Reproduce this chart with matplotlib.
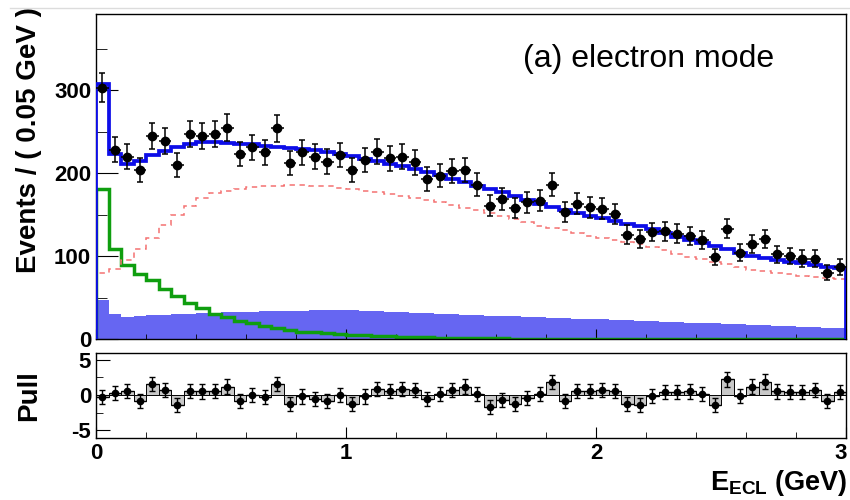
import numpy as np
import matplotlib
matplotlib.use('Agg')
import matplotlib.pyplot as plt
import matplotlib.transforms as mtransforms
from matplotlib.lines import Line2D
from matplotlib.ticker import MultipleLocator

plt.rcParams['font.family'] = ['Liberation Sans', 'DejaVu Sans']
plt.rcParams['mathtext.fontset'] = 'custom'
plt.rcParams['mathtext.rm'] = 'Liberation Sans'
plt.rcParams['mathtext.bf'] = 'Liberation Sans:bold'

# E_ECL bins: 60 bins of 0.05 GeV from 0 to 3
bin_width = 0.05
n_bins = 60

# data counts per bin
data = [303, 228, 220, 204, 245, 239, 210, 247, 245, 247,
        255, 223, 231, 225, 254, 212, 225, 220, 214, 222,
        204, 216, 226, 218, 220, 213, 193, 197, 203, 204,
        186, 161, 169, 158, 165, 167, 186, 153, 163, 159,
        157, 151, 126, 121, 129, 130, 127, 124, 119, 99,
        133, 104, 115, 121, 102, 100, 97, 97, 80, 87]

# signal component (red dashed)
signal = [80, 85, 95, 108, 122, 137, 150, 161, 170, 176,
          179, 181, 183, 184, 185, 185.5, 185.5, 185, 184, 182.5,
          181, 179, 177, 175, 173, 170.5, 168, 165, 162, 158.5,
          155, 151.5, 148.5, 145, 141, 136, 133.5, 131, 128, 124.5,
          121.5, 119, 116.5, 114, 111, 107, 103, 99, 96, 93,
          90, 86.5, 83.5, 81.5, 79.5, 78, 76.5, 75, 73.5, 72]

# peaking background (green)
peaking = [181, 108, 89, 79, 71, 60, 52, 44, 37, 30,
           26, 22, 19, 16, 13, 11, 9, 8, 7, 6,
           5, 4.5, 4, 3.5, 3, 2.5, 2, 1.7, 1.4, 1.2,
           1.0, 0.8, 0.7, 0.6, 0.5, 0.4, 0.3, 0.3, 0.2, 0.2,
           0.2, 0.1, 0.1, 0.1, 0.1, 0.1, 0.1, 0.1, 0.1, 0.1,
           0.1, 0.1, 0.1, 0.1, 0.1, 0.1, 0.1, 0.1, 0.1, 0.1]

# other background (blue filled)
other_bkg = [47, 30, 27, 28, 29, 29.5, 30, 30.5, 31, 31.5,
             32, 32.5, 33, 33.3, 33.6, 34, 34.3, 34.6, 34.8, 35,
             34.7, 34, 33.5, 33, 32.5, 31.8, 31.2, 30.6, 30, 29.5,
             29, 28.3, 27.7, 27.2, 26.6, 26, 25.4, 24.8, 24.2, 23.6,
             23.8, 23.2, 22.6, 22.1, 21.6, 21.1, 20.5, 19.9, 19.3, 18.8,
             18.2, 17.6, 17.0, 16.5, 15.9, 15.3, 14.8, 14.2, 13.6, 13.0]

# pull per bin
pulls = [-0.3, 0.3, 0.6, -0.9, 1.5, 0.75, -1.4, 0.6, 0.5, 0.6,
         1.2, -0.8, 0.0, -0.3, 1.5, -1.3, -0.2, -0.55, -0.9, 0.0,
         -1.3, -0.2, 0.9, 0.6, 0.9, 0.75, -0.55, 0.15, 0.75, 1.2,
         0.15, -1.7, -0.65, -1.3, -0.45, 0.15, 1.8, -0.8, 0.6, 0.6,
         0.75, 0.6, -1.3, -1.4, -0.1, 0.4, 0.4, 0.5, 0.2, -1.4,
         2.2, -0.1, 1.2, 1.9, 0.5, 0.4, 0.4, 0.75, -0.9, 0.4]

edges = np.arange(n_bins + 1) * bin_width
centers = edges[:-1] + bin_width / 2
data = np.array(data, dtype=float)
total = np.array(signal) + np.array(peaking) + np.array(other_bkg)

fig = plt.figure(figsize=(8.5, 5), dpi=100)
ax = fig.add_axes([96 / 850, 1 - 339 / 500, 750 / 850, 325 / 500])
ax2 = fig.add_axes([96 / 850, 1 - 437.5 / 500, 750 / 850, 85 / 500])

# --- upper panel ---
ax.stairs(other_bkg, edges, fill=True, color='#6666f2', lw=0, zorder=1)
ax.stairs(peaking, edges, color='#0f9e0f', lw=2.5, zorder=2)
ax.stairs(signal, edges, color='#f47272', lw=1.1, ls=(0, (3.5, 3)), zorder=3)
ax.stairs(total, edges, color='#0d0de8', lw=2.7, zorder=4)
ax.errorbar(centers, data, xerr=bin_width / 2, fmt='none', ecolor='black',
            lw=1.1, zorder=6)
ax.errorbar(centers, data, yerr=np.sqrt(data), fmt='o', color='black', ms=6,
            lw=1.1, capsize=2.5, capthick=1.1, zorder=7)

ax.set_xlim(0, 3)
ax.set_ylim(0, 392)
ax.set_yticks([0, 100, 200, 300])
ax.set_yticklabels(['0', '100', '200', '300'], fontweight='bold', fontsize=16)
ax.yaxis.set_minor_locator(MultipleLocator(50))
ax.set_xticks([0, 1, 2, 3])
ax.xaxis.set_minor_locator(MultipleLocator(0.2))
ax.tick_params(axis='x', which='major', direction='in', length=7, labelbottom=False)
ax.tick_params(axis='x', which='minor', direction='in', length=3.6)
ax.tick_params(axis='y', which='major', direction='in', length=16, pad=3.5)
ax.tick_params(axis='y', which='minor', direction='in', length=8)
ax.text(0.569, 0.862, '(a) electron mode', transform=ax.transAxes,
        fontsize=23, ha='left', va='center')

# --- pull panel ---
ax2.bar(centers, pulls, width=bin_width, color='#c8c8c8', edgecolor='black',
        lw=0.7, zorder=2)
ax2.errorbar(centers, pulls, xerr=bin_width / 2, fmt='none', ecolor='black',
             lw=1.0, zorder=5)
ax2.errorbar(centers, pulls, yerr=1.0, fmt='o', color='black', ms=4.5,
             lw=1.0, capsize=2, capthick=1.0, zorder=6)
ax2.set_xlim(0, 3)
ax2.set_ylim(-6, 6)
ax2.set_yticks([-5, 0, 5])
ax2.set_yticklabels(['-5', '0', '5'], fontweight='bold', fontsize=16)
ax2.yaxis.set_minor_locator(MultipleLocator(2.5))
ax2.set_xticks([0, 1, 2, 3])
ax2.set_xticklabels(['0', '1', '2', '3'], fontweight='bold', fontsize=16)
ax2.xaxis.set_minor_locator(MultipleLocator(0.2))
ax2.tick_params(axis='x', which='major', direction='in', length=8, pad=4)
ax2.tick_params(axis='x', which='minor', direction='in', length=4.3)
ax2.tick_params(axis='y', which='major', direction='in', length=10, pad=3.5)
ax2.tick_params(axis='y', which='minor', direction='in', length=5)

# nudge the last x label so it stays inside the picture
last = ax2.get_xticklabels()[-1]
last.set_transform(last.get_transform() +
                   mtransforms.ScaledTranslation(-5 / 100, 0, fig.dpi_scale_trans))

for a in (ax, ax2):
    for sp in a.spines.values():
        sp.set_linewidth(1.0)

# axis titles
fig.text(29 / 850, 1 - 7 / 500, 'Events / ( 0.05 GeV )', rotation=90,
         fontsize=20, fontweight='bold', ha='center', va='top')
fig.text(29 / 850, 1 - 396 / 500, 'Pull', rotation=90,
         fontsize=20, fontweight='bold', ha='center', va='center')
fig.text(848 / 850, 1 - 490 / 500, r'E$_{\mathbf{ECL}}$ (GeV)',
         fontsize=19.5, fontweight='bold', ha='right', va='baseline')

# thin grey border line at the top of the screenshot
fig.add_artist(Line2D([0.012, 1.0], [1 - 8 / 500] * 2, color='#dcdcdc', lw=1.0))

fig.savefig('out.png', dpi=100)
